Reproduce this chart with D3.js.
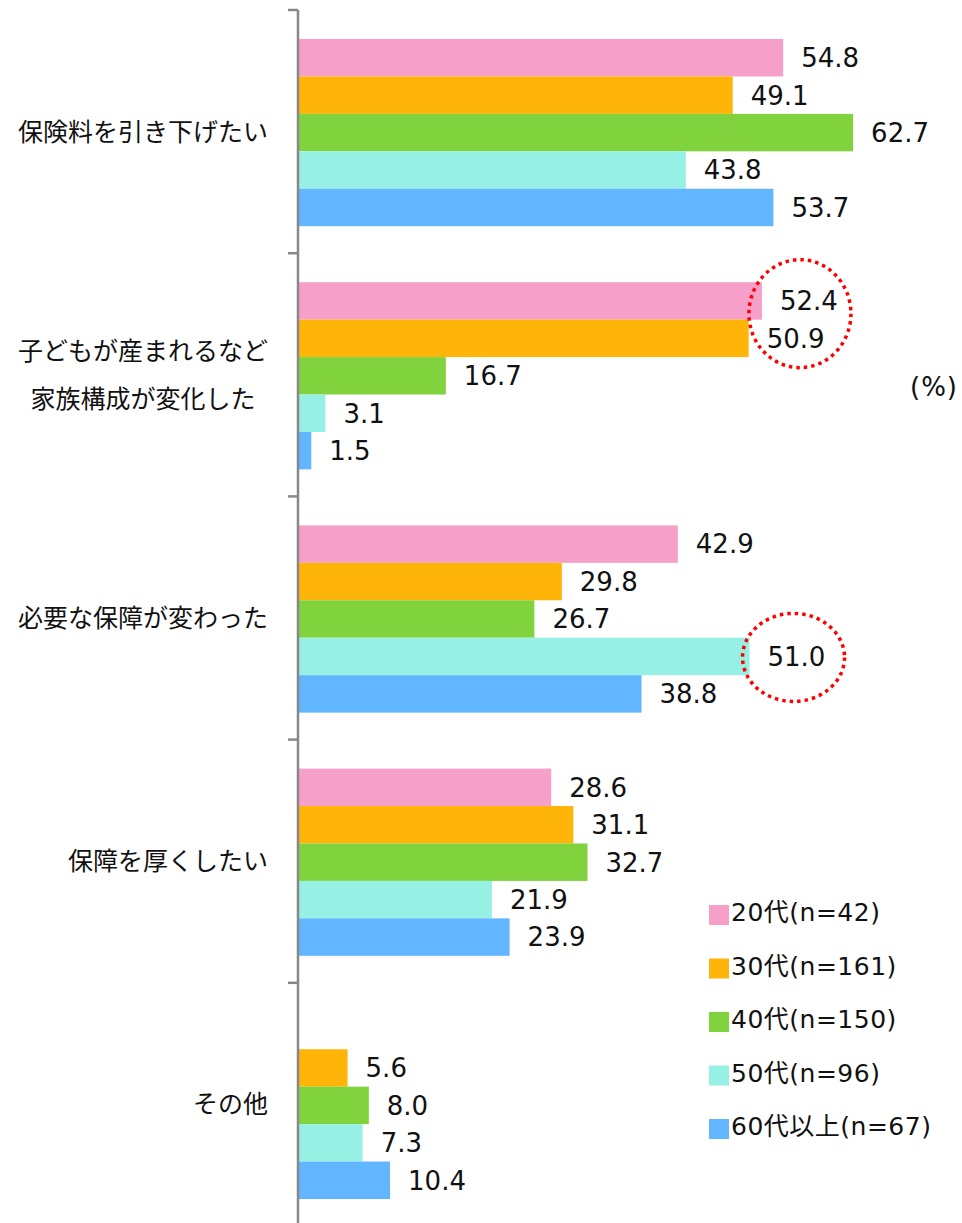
<!DOCTYPE html>
<html lang="ja">
<head>
<meta charset="UTF-8" />
<title>保険見直しの理由</title>
<script src="https://cdn.jsdelivr.net/npm/d3@7"></script>
<style>
  body { margin: 0; background: #fff; }
  svg text { font-family: "DejaVu Sans", Verdana, "Noto Sans CJK JP", sans-serif; fill: #111; }
  svg text.jp { font-family: "Noto Sans CJK JP", sans-serif; }
</style>
</head>
<body>
<div id="chart"></div>
<script>
// data
const categories = ["保険料を引き下げたい", "子どもが産まれるなど\n家族構成が変化した", "必要な保障が変わった", "保障を厚くしたい", "その他"];
const series = ["20代(n=42)", "30代(n=161)", "40代(n=150)", "50代(n=96)", "60代以上(n=67)"];
const colors = ["#F6A0C9", "#FFB40A", "#80D33C", "#96F0E4", "#62B5FF"];
const v20 = [54.8, 52.4, 42.9, 28.6, null];
const v30 = [49.1, 50.9, 29.8, 31.1, 5.6];
const v40 = [62.7, 16.7, 26.7, 32.7, 8.0];
const v50 = [43.8, 3.1, 51.0, 21.9, 7.3];
const v60 = [53.7, 1.5, 38.8, 23.9, 10.4];
const values = [v20, v30, v40, v50, v60];
// highlighted labels: [category index, first series, last series]
const highlights = [[1, 0, 1], [2, 3, 3]];

const width = 962, height = 1223;
const svg = d3.select("#chart").append("svg")
  .attr("width", width).attr("height", height);

const x = d3.scaleLinear([0, 75], [298, 962]);
const y0 = d3.scaleBand(d3.range(categories.length), [10, 1226]);
const y1 = d3.scaleBand(d3.range(series.length), [29, y0.bandwidth() - 27]);

// bars
const groups = svg.selectAll("g.grp")
  .data(categories)
  .join("g")
  .attr("class", "grp")
  .attr("transform", (d, i) => `translate(0,${y0(i)})`);

groups.each(function (c, ci) {
  const g = d3.select(this);
  const rows = series.map((s, si) => ({ si, v: values[si][ci] })).filter(d => d.v != null);
  g.selectAll("rect").data(rows).join("rect")
    .attr("x", x(0) + 1)
    .attr("y", d => y1(d.si))
    .attr("width", d => x(d.v) - x(0) - 1)
    .attr("height", y1.bandwidth())
    .attr("fill", d => colors[d.si]);
  g.selectAll("text.val").data(rows).join("text")
    .attr("class", "val")
    .attr("x", d => x(d.v) + 18)
    .attr("y", d => y1(d.si) + y1.bandwidth() / 2)
    .attr("dy", "0.36em")
    .style("font-size", "26px")
    .text(d => d.v.toFixed(1));
  // category label
  const lines = c.split("\n");
  const lx = lines.length > 1 ? 143 : 268;
  const lab = g.append("text").attr("class", "jp")
    .style("font-size", "25px")
    .attr("text-anchor", lines.length > 1 ? "middle" : "end")
    .attr("y", y0.bandwidth() / 2 - (lines.length - 1) * 24);
  lines.forEach((l, li) => {
    lab.append("tspan").attr("x", lx)
      .attr("dy", li === 0 ? "0.36em" : 48).text(l);
  });
});

// axis
const axis = svg.append("g").attr("stroke", "#888").attr("stroke-width", 2.5);
axis.append("line").attr("x1", x(0)).attr("x2", x(0)).attr("y1", y0(0)).attr("y2", height);
axis.selectAll("line.tick").data(y0.domain()).join("line")
  .attr("class", "tick")
  .attr("x1", x(0) - 10).attr("x2", x(0))
  .attr("y1", d => y0(d)).attr("y2", d => y0(d));

// red dotted ellipses around highlighted labels
highlights.forEach(([ci, s0, s1]) => {
  const pair = s1 > s0;
  const top = y0(ci) + y1(s0), bot = y0(ci) + y1(s1) + y1.bandwidth();
  const vmax = d3.max(d3.range(s0, s1 + 1), s => values[s][ci]);
  svg.append("ellipse")
    .attr("cx", x(vmax) + (pair ? 38 : 44))
    .attr("cy", (top + bot) / 2 + (pair ? -6 : 1))
    .attr("rx", 51)
    .attr("ry", pair ? 54 : 44)
    .attr("fill", "none")
    .attr("stroke", "#FF0000")
    .attr("stroke-width", 3.5)
    .attr("stroke-dasharray", "3.5 4");
});

// unit
svg.append("text").attr("x", 958).attr("y", 387).attr("dy", "0.36em")
  .attr("text-anchor", "end").style("font-size", "26px")
  .style("letter-spacing", "1px").text("(%)");

// legend
const legend = svg.append("g").attr("transform", "translate(709,905)");
const li = legend.selectAll("g").data(series).join("g")
  .attr("transform", (d, i) => `translate(0,${i * 53.5})`);
li.append("rect").attr("width", 20).attr("height", 20).attr("fill", (d, i) => colors[i]);
li.append("text").attr("x", 22).attr("y", 7).attr("dy", "0.36em")
  .style("font-size", "25px").style("letter-spacing", "0.5px").text(d => d);
</script>
</body>
</html>
